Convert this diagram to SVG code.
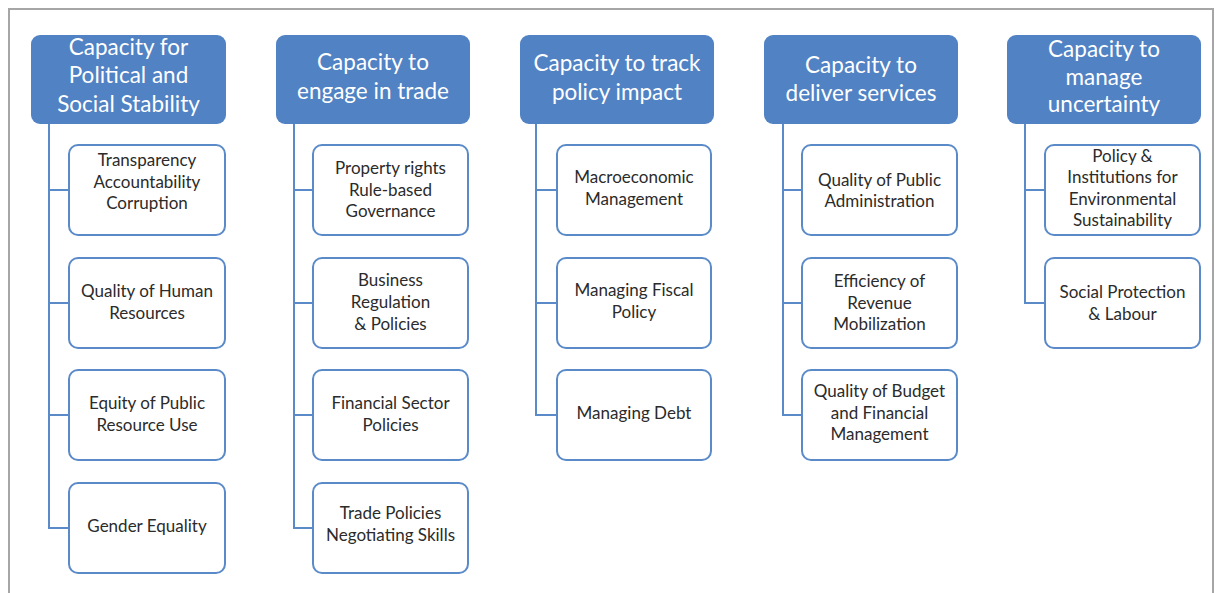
<svg xmlns="http://www.w3.org/2000/svg" width="1215" height="593" viewBox="0 0 1215 593">
  <style>
    .frame { fill: #ffffff; stroke: #a6a6a6; stroke-width: 2; }
    .head rect { fill: #5082c4; stroke: none; }
    .head text { fill: #ffffff; font-family: Lato, "Open Sans", "Liberation Sans", sans-serif; font-size: 22.5px; text-anchor: middle; dominant-baseline: central; transform: translateY(-2px); }
    .item rect { fill: #ffffff; stroke: #5a8ac8; stroke-width: 2; }
    .item text { fill: #2b2b2b; font-family: Lato, "Open Sans", "Liberation Sans", sans-serif; font-size: 17px; text-anchor: middle; dominant-baseline: central; transform: translateY(-1.5px); }
    .links path { fill: none; stroke: #5a8ac8; stroke-width: 2; }
  </style>

  <!-- outer frame -->
  <rect class="frame" x="9" y="9" width="1204" height="600"/>

  <!-- connectors: vertical spine per column with branches into each item -->
  <g id="connectors" class="links">
    <path d="M49 124 V528 H69 M49 415 H69 M49 303 H69 M49 190 H69"/>
    <path d="M294 124 V528 H313 M294 415 H313 M294 303 H313 M294 190 H313"/>
    <path d="M536 124 V415 H557 M536 303 H557 M536 190 H557"/>
    <path d="M783 124 V415 H802 M783 303 H802 M783 190 H802"/>
    <path d="M1025 124 V303 H1045 M1025 190 H1045"/>
  </g>

  <!-- column 1 -->
  <g id="head-political" class="head">
    <rect x="31" y="35" width="195" height="89" rx="9"/>
    <text x="128.5" y="48">Capacity for</text>
    <text x="128.5" y="76.5">Political and</text>
    <text x="128.5" y="105">Social Stability</text>
  </g>
  <g id="item-transparency" class="item">
    <rect x="69" y="145" width="156" height="90" rx="9"/>
    <text x="147" y="161">Transparency</text>
    <text x="147" y="182.5">Accountability</text>
    <text x="147" y="204">Corruption</text>
  </g>
  <g id="item-human-resources" class="item">
    <rect x="69" y="258" width="156" height="90" rx="9"/>
    <text x="147" y="292">Quality of Human</text>
    <text x="147" y="313.5">Resources</text>
  </g>
  <g id="item-equity" class="item">
    <rect x="69" y="370" width="156" height="90" rx="9"/>
    <text x="147" y="404">Equity of Public</text>
    <text x="147" y="426">Resource Use</text>
  </g>
  <g id="item-gender" class="item">
    <rect x="69" y="483" width="156" height="90" rx="9"/>
    <text x="147" y="527">Gender Equality</text>
  </g>

  <!-- column 2 -->
  <g id="head-trade" class="head">
    <rect x="276" y="35" width="194" height="89" rx="9"/>
    <text x="373" y="63">Capacity to</text>
    <text x="373" y="92">engage in trade</text>
  </g>
  <g id="item-property" class="item">
    <rect x="313" y="145" width="155" height="90" rx="9"/>
    <text x="390.5" y="169">Property rights</text>
    <text x="390.5" y="190.5">Rule-based</text>
    <text x="390.5" y="212">Governance</text>
  </g>
  <g id="item-business" class="item">
    <rect x="313" y="258" width="155" height="90" rx="9"/>
    <text x="390.5" y="281">Business</text>
    <text x="390.5" y="303">Regulation</text>
    <text x="390.5" y="325">&amp; Policies</text>
  </g>
  <g id="item-financial" class="item">
    <rect x="313" y="370" width="155" height="90" rx="9"/>
    <text x="390.5" y="404">Financial Sector</text>
    <text x="390.5" y="426">Policies</text>
  </g>
  <g id="item-trade-policies" class="item">
    <rect x="313" y="483" width="155" height="90" rx="9"/>
    <text x="390.5" y="514">Trade Policies</text>
    <text x="390.5" y="536">Negotiating Skills</text>
  </g>

  <!-- column 3 -->
  <g id="head-policy" class="head">
    <rect x="520" y="35" width="194" height="89" rx="9"/>
    <text x="617" y="64">Capacity to track</text>
    <text x="617" y="93">policy impact</text>
  </g>
  <g id="item-macro" class="item">
    <rect x="557" y="145" width="154" height="90" rx="9"/>
    <text x="634" y="178">Macroeconomic</text>
    <text x="634" y="200">Management</text>
  </g>
  <g id="item-fiscal" class="item">
    <rect x="557" y="258" width="154" height="90" rx="9"/>
    <text x="634" y="291">Managing Fiscal</text>
    <text x="634" y="313">Policy</text>
  </g>
  <g id="item-debt" class="item">
    <rect x="557" y="370" width="154" height="90" rx="9"/>
    <text x="634" y="414">Managing Debt</text>
  </g>

  <!-- column 4 -->
  <g id="head-services" class="head">
    <rect x="764" y="35" width="194" height="89" rx="9"/>
    <text x="861" y="66">Capacity to</text>
    <text x="861" y="94.5">deliver services</text>
  </g>
  <g id="item-administration" class="item">
    <rect x="802" y="145" width="155" height="90" rx="9"/>
    <text x="879.5" y="181">Quality of Public</text>
    <text x="879.5" y="202">Administration</text>
  </g>
  <g id="item-revenue" class="item">
    <rect x="802" y="258" width="155" height="90" rx="9"/>
    <text x="879.5" y="282">Efficiency of</text>
    <text x="879.5" y="303.5">Revenue</text>
    <text x="879.5" y="325">Mobilization</text>
  </g>
  <g id="item-budget" class="item">
    <rect x="802" y="370" width="155" height="90" rx="9"/>
    <text x="879.5" y="392">Quality of Budget</text>
    <text x="879.5" y="413.5">and Financial</text>
    <text x="879.5" y="435">Management</text>
  </g>

  <!-- column 5 -->
  <g id="head-uncertainty" class="head">
    <rect x="1007" y="35" width="194" height="89" rx="9"/>
    <text x="1104" y="50">Capacity to</text>
    <text x="1104" y="78">manage</text>
    <text x="1104" y="105.5">uncertainty</text>
  </g>
  <g id="item-environment" class="item">
    <rect x="1045" y="145" width="155" height="90" rx="9"/>
    <text x="1122.5" y="156.5">Policy &amp;</text>
    <text x="1122.5" y="178">Institutions for</text>
    <text x="1122.5" y="199.5">Environmental</text>
    <text x="1122.5" y="221">Sustainability</text>
  </g>
  <g id="item-social-protection" class="item">
    <rect x="1045" y="258" width="155" height="90" rx="9"/>
    <text x="1122.5" y="293">Social Protection</text>
    <text x="1122.5" y="314.5">&amp; Labour</text>
  </g>
</svg>
